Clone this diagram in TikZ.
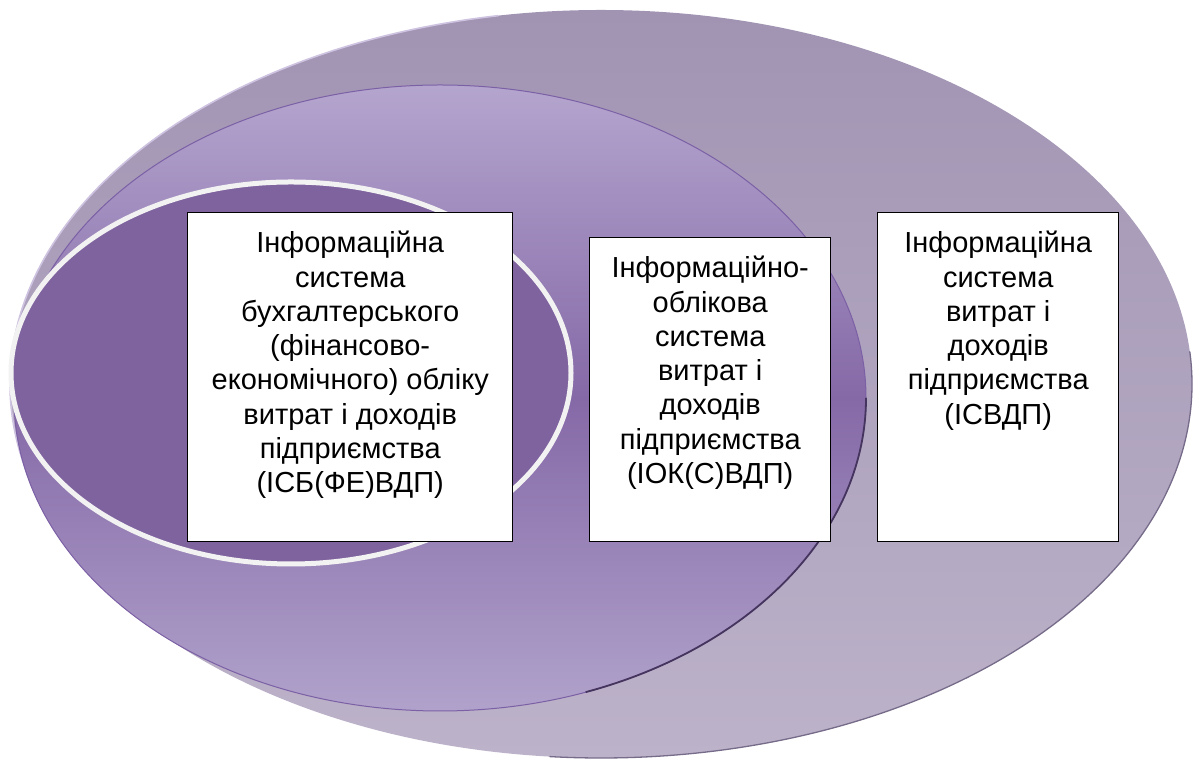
\documentclass[tikz,border=0pt]{standalone}
\usepackage{fontspec}
\setmainfont{Liberation Sans}
\definecolor{ringTop}{HTML}{A194B3}
\definecolor{ringBot}{HTML}{BCB2C9}
\definecolor{ringRim}{HTML}{CEC3E0}
\definecolor{ringShade}{HTML}{766C8A}
\definecolor{midTop}{HTML}{B4A5CE}
\definecolor{midMid}{HTML}{8569A7}
\definecolor{midBot}{HTML}{B0A2CB}
\definecolor{midLine}{HTML}{7C60A5}
\definecolor{midShade}{HTML}{45355E}
\definecolor{coreFill}{HTML}{7F639F}
\definecolor{coreRim}{HTML}{F2F2F2}
\begin{document}
\begin{tikzpicture}[x=1pt,y=1pt,
  lbl/.style={font=\fontsize{29}{34.3}\selectfont, align=center, inner sep=0pt, anchor=north},
  card/.style={draw=black, line width=1.4pt, fill=white, anchor=north west, inner sep=0pt}]
\useasboundingbox (0,0) rectangle (1197,767);

% centres of the three nested ellipses
\coordinate (oc) at (601,383);
\coordinate (mc) at (440,369);
\coordinate (ic) at (291,394);

% outer ellipse: information system of costs and revenues
\shade[top color=ringTop, bottom color=ringBot] (oc) ellipse [x radius=591pt, y radius=374pt];
\draw[ringRim, line width=1.6pt] (oc) ++(100:591pt and 374pt)
  arc[start angle=100, end angle=210, x radius=591pt, y radius=374pt];
\draw[ringShade, line width=1.3pt] (oc) ++(-95:591pt and 374pt)
  arc[start angle=-95, end angle=5, x radius=591pt, y radius=374pt];

% middle ellipse: accounting information system
\shade[top color=midTop, bottom color=midBot, middle color=midMid] (mc) ellipse [x radius=426pt, y radius=313pt];
\draw[midLine, line width=1pt] (mc) ellipse [x radius=426pt, y radius=313pt];
\draw[midShade, line width=1.8pt] (mc) ++(-70:426pt and 313pt)
  arc[start angle=-70, end angle=0, x radius=426pt, y radius=313pt];

% inner ellipse: bookkeeping information system
\draw[coreRim, fill=coreFill, line width=5pt] (ic) ellipse [x radius=280pt, y radius=191pt];

% text cards
\node[card, minimum width=325pt, minimum height=329pt] (b1) at (187,555) {};
\node[card, minimum width=241pt, minimum height=304pt] (b2) at (589,530) {};
\node[card, minimum width=241pt, minimum height=329pt] (b3) at (877,555) {};

\node[lbl] (t1) at ([yshift=-19pt]b1.north) {Інформаційна\\система\\бухгалтерського\\(фінансово-\\економічного) обліку\\витрат і доходів\\підприємства\\(ІСБ(ФЕ)ВДП)};
\node[lbl] (t2) at ([yshift=-19pt]b2.north) {Інформаційно-\\облікова\\система\\витрат і\\доходів\\підприємства\\(ІОК(С)ВДП)};
\node[lbl] (t3) at ([yshift=-19pt]b3.north) {Інформаційна\\система\\витрат і\\доходів\\підприємства\\(ІСВДП)};
\end{tikzpicture}
\end{document}
